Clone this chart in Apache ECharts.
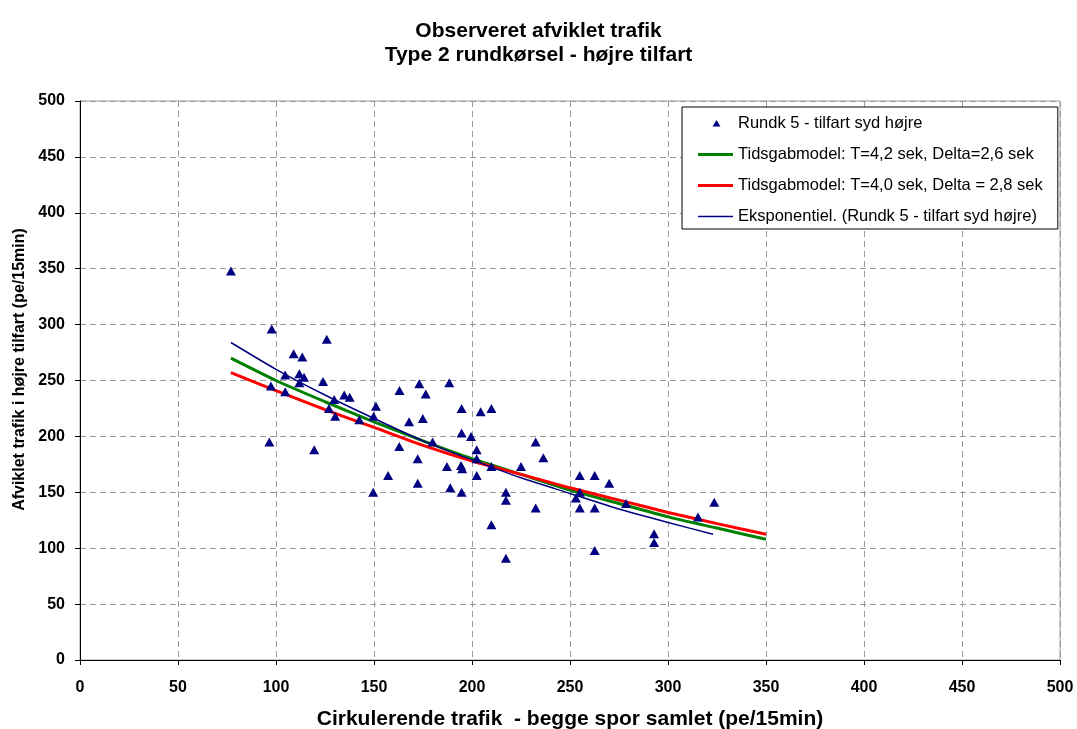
<!DOCTYPE html>
<html>
<head>
<meta charset="utf-8">
<title>Observeret afviklet trafik</title>
<script src="https://cdn.jsdelivr.net/npm/echarts@6/dist/echarts.min.js"></script>
<style>
  html, body { margin: 0; padding: 0; background: #fff; }
  #chart { width: 1077px; height: 729px; }
</style>
</head>
<body>
<div id="chart"></div>
<script>
// Observed entry flow vs. circulating flow, right-hand entry of a type 2 roundabout
var observedPoints = [
  [77, 348], [97.8, 296], [125.9, 287], [109, 274], [113.4, 271], [104.7, 255],
  [111.9, 256], [114.3, 253], [111.9, 248], [124, 249], [97.4, 245], [104.7, 240],
  [129.7, 233], [134.8, 237], [137.6, 235], [127, 225], [130.2, 218], [142.5, 215],
  [96.6, 195], [119.5, 188], [151, 227], [149.8, 218], [162.9, 191], [157.2, 165],
  [149.6, 150], [163, 241], [173.1, 247], [176.4, 238], [188.4, 248], [167.9, 213],
  [174.9, 216], [194.7, 225], [204.4, 222], [209.9, 225], [179.9, 195], [172.3, 180],
  [194.7, 203], [199.5, 200], [202.4, 188], [202.4, 180], [187.2, 173], [194.4, 174],
  [195, 171], [209.9, 173], [225, 173], [232.5, 195], [236.4, 181], [172.3, 158],
  [188.9, 154], [194.7, 150], [202.4, 165], [217.3, 150], [217.3, 143], [232.5, 136],
  [209.9, 121], [217.3, 91], [255, 165], [262.6, 165], [270, 158], [255, 150],
  [253, 145], [255, 136], [262.6, 136], [278.6, 140], [262.6, 98], [292.9, 113],
  [292.9, 105], [315.3, 128], [323.6, 141]
];

// Gap-acceptance model curves (circulating flow -> capacity)
var modelX = [77, 100, 125, 150, 175, 200, 225, 250, 275, 300, 325, 350];
var modelT42 = [270, 250, 231, 213, 196, 180, 166, 152, 140, 128, 118, 108];
var modelT40 = [257, 241, 224, 208, 192, 178, 166, 154, 143, 132, 122, 112.5];

// Exponential trend line through the observations
var trendX = [77, 100, 125, 150, 175, 200, 225, 250, 275, 300, 323];
var trendY = [284, 260, 237, 216, 196, 179, 163, 149, 135, 123, 112.5];

var axisTicks = [0, 50, 100, 150, 200, 250, 300, 350, 400, 450, 500];

var seriesNames = [
  'Rundk 5 - tilfart syd højre',
  'Tidsgabmodel: T=4,2 sek, Delta=2,6 sek',
  'Tidsgabmodel: T=4,0 sek, Delta = 2,8 sek',
  'Eksponentiel. (Rundk 5 - tilfart syd højre)'
];

function pairs(xs, ys) {
  return xs.map(function (x, i) { return [x, ys[i]]; });
}

var FONT = '"Liberation Sans", Arial, sans-serif';
var NAVY = '#000080';
var GREEN = '#008000';
var RED = '#ff0000';

// Legend icons: a 35x14 box (the leading moves fix the bounds) with a mark inside
var ICON_TRIANGLE = 'path://M0 0M35 14M14.5 10L18.5 3.5L22.5 10Z';
var ICON_THICK = 'path://M0 0M35 14M0 5.5L35 5.5L35 8.5L0 8.5Z';
var ICON_THIN = 'path://M0 0M35 14M0 6.25L35 6.25L35 7.75L0 7.75Z';

var chart = echarts.init(document.getElementById('chart'), null, { renderer: 'canvas' });

var axisCommon = {
  type: 'value',
  min: axisTicks[0],
  max: axisTicks[axisTicks.length - 1],
  interval: axisTicks[1] - axisTicks[0],
  axisLine: { show: true, onZero: false, lineStyle: { color: '#000', width: 1 } },
  axisTick: { show: true, inside: false, length: 5, lineStyle: { color: '#000' } },
  splitLine: { show: true, lineStyle: { color: '#9a9a9a', type: [6, 4], width: 1 } },
  axisLabel: { color: '#000', fontFamily: FONT, fontWeight: 'bold', fontSize: 16 }
};

chart.setOption({
  backgroundColor: '#fff',
  animation: false,
  title: {
    text: 'Observeret afviklet trafik\nType 2 rundkørsel - højre tilfart',
    left: 'center',
    top: 14,
    textStyle: { fontFamily: FONT, fontWeight: 'bold', fontSize: 21, lineHeight: 24, color: '#000' }
  },
  grid: {
    left: 80, right: 17, top: 101, bottom: 69,
    outerBoundsMode: 'none',
    containLabel: false,
    show: true, borderColor: '#9a9a9a', borderWidth: 1, backgroundColor: '#fff'
  },
  xAxis: Object.assign({}, axisCommon, {
    name: 'Cirkulerende trafik  - begge spor samlet (pe/15min)',
    nameLocation: 'middle',
    nameGap: 49,
    nameTextStyle: { color: '#000', fontFamily: FONT, fontWeight: 'bold', fontSize: 21 },
    axisLabel: Object.assign({}, axisCommon.axisLabel, { margin: 20 })
  }),
  yAxis: Object.assign({}, axisCommon, {
    name: 'Afviklet trafik i højre tilfart (pe/15min)',
    nameLocation: 'middle',
    nameGap: 52,
    nameTextStyle: {
      color: '#000', fontFamily: FONT, fontWeight: 'bold', fontSize: 16,
      padding: [0, 0, 0, 22]
    },
    axisLabel: Object.assign({}, axisCommon.axisLabel, { margin: 15 })
  }),
  legend: {
    orient: 'vertical',
    left: 682,
    top: 107,
    padding: [8, 15, 4, 16],
    itemGap: 14,
    itemWidth: 35,
    itemHeight: 14,
    backgroundColor: '#fff',
    borderColor: '#000',
    borderWidth: 1,
    textStyle: { fontFamily: FONT, fontSize: 16.5, lineHeight: 14, color: '#000' },
    data: [
      { name: seriesNames[0], icon: ICON_TRIANGLE },
      { name: seriesNames[1], icon: ICON_THICK },
      { name: seriesNames[2], icon: ICON_THICK },
      { name: seriesNames[3], icon: ICON_THIN }
    ]
  },
  series: [
    {
      name: seriesNames[0],
      type: 'scatter',
      data: observedPoints,
      symbol: 'triangle',
      symbolSize: [10, 9],
      itemStyle: { color: NAVY, opacity: 1 },
      z: 5
    },
    {
      name: seriesNames[1],
      type: 'line',
      data: pairs(modelX, modelT42),
      symbol: 'none',
      smooth: 0.2,
      lineStyle: { color: GREEN, width: 3 },
      itemStyle: { color: GREEN },
      z: 3
    },
    {
      name: seriesNames[2],
      type: 'line',
      data: pairs(modelX, modelT40),
      symbol: 'none',
      smooth: 0.2,
      lineStyle: { color: RED, width: 3 },
      itemStyle: { color: RED },
      z: 3
    },
    {
      name: seriesNames[3],
      type: 'line',
      data: pairs(trendX, trendY),
      symbol: 'none',
      smooth: 0.2,
      lineStyle: { color: NAVY, width: 1.5 },
      itemStyle: { color: NAVY },
      z: 4
    }
  ]
});
</script>
</body>
</html>
